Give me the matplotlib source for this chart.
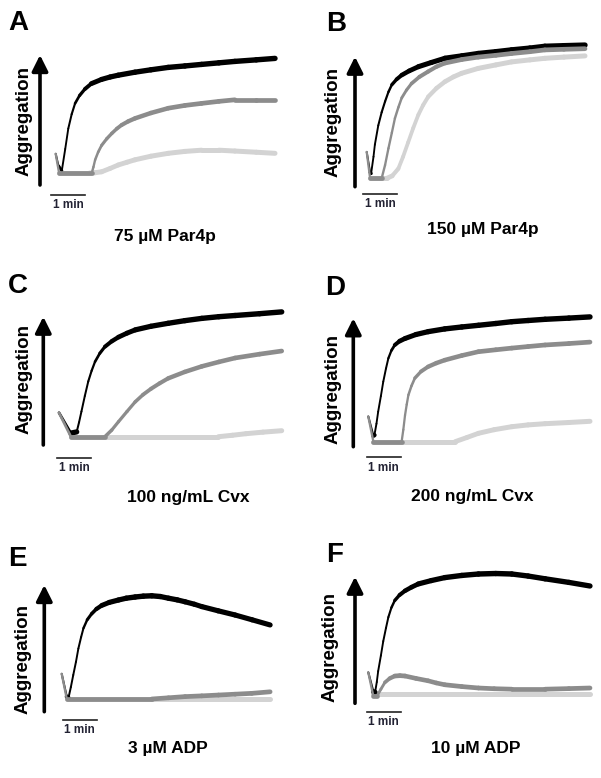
import math
import matplotlib.pyplot as plt
from matplotlib.collections import LineCollection
from matplotlib.patches import FancyArrowPatch

plt.rcParams['font.family'] = ['Liberation Sans', 'DejaVu Sans']

W, H = 601, 778
PX_MIN = 34.0   # pixels per minute (scale bar)
PX_PCT = 1.2    # pixels per % aggregation

BLACK = '#000000'
MID = '#8c8c8c'
LIGHT = '#d3d3d3'

# traces: time (min) / aggregation (%)
a_black_t = [0, 0.08, 0.18, 0.28, 0.37, 0.47, 0.57, 0.7, 0.86, 1.05, 1.35, 1.6, 1.84, 2.33, 2.8,
             3.31, 3.8, 4.29, 4.8, 5.27, 5.9, 6.45]
a_black_y = [16, 6, 2, 20, 37, 49, 58, 64.5, 70, 74.5, 78, 80, 81.5, 84, 86,
             88, 89.2, 90.5, 91.8, 93, 94.3, 95.5]
a_mid_t = [0, 0.1, 1.06, 1.11, 1.16, 1.25, 1.35, 1.5, 1.65, 1.8, 1.94, 2.13, 2.33, 2.8, 3.31,
           3.8, 4.29, 4.8, 5.27, 5.9, 6.45]
a_mid_y = [16, 0, 0, 5, 11, 17.5, 23, 28.5, 33, 37, 40, 43, 45.5, 50, 54,
           56.3, 58, 59.7, 61, 61, 61]
a_light_t = [0.1, 1.0, 1.15, 1.35, 1.6, 1.84, 2.1, 2.33, 2.8, 3.31, 3.8, 4.29, 4.8, 5.27, 5.9, 6.45]
a_light_y = [0, 0, 0.2, 1, 3.8, 6.7, 9, 11, 14, 16.4, 18, 19, 19, 18.3, 17.3, 16.4]

b_black_t = [0, 0.1, 0.13, 0.2, 0.24, 0.34, 0.44, 0.54, 0.64, 0.74, 0.88, 1.03, 1.25, 1.52, 1.9,
             2.30, 2.8, 3.28, 3.8, 4.26, 4.8, 5.24, 5.8, 6.42]
b_black_y = [22, 5, 4, 18, 28, 44, 55, 64, 72, 78, 82.5, 86, 89.5, 93, 96.5,
             100, 102, 104, 105.5, 107, 108.5, 110, 110.5, 111]
b_mid_t = [0, 0.1, 0.44, 0.54, 0.64, 0.74, 0.83, 0.93, 1.03, 1.17, 1.32, 1.55, 1.81, 2.05, 2.30,
           2.8, 3.28, 3.8, 4.26, 4.8, 5.24, 5.8, 6.42]
b_mid_y = [22, 0, 0, 11, 25, 38, 50, 59, 67, 73.5, 79, 84.5, 89, 93, 96,
           99, 101, 102.5, 104, 105.5, 107, 107.5, 108]
b_light_t = [0.1, 0.59, 0.75, 0.93, 1.07, 1.22, 1.37, 1.52, 1.66, 1.81, 2.05, 2.30, 2.55, 2.79,
             3.28, 3.8, 4.26, 4.8, 5.24, 5.8, 6.42]
b_light_y = [0, 0, 2, 8, 18, 30, 42, 53, 61, 68, 75, 80.5, 84.5, 87.5,
             91.6, 94.5, 97, 98.7, 100, 101, 102]

c_black_t = [0, 0.35, 0.52, 0.59, 0.66, 0.76, 0.86, 0.96, 1.06, 1.2, 1.35, 1.55, 1.75, 2.0, 2.24,
             2.7, 3.21, 3.7, 4.20, 4.7, 5.18, 5.9, 6.55]
c_black_y = [20, 3, 4, 12, 21, 34, 46, 55, 62.5, 69.5, 75, 79.5, 83, 86.3, 89,
             92, 94.5, 96.7, 98.6, 100, 101, 102.5, 104]
c_mid_t = [0, 0.35, 1.35, 1.55, 1.75, 2.0, 2.24, 2.47, 2.71, 2.96, 3.21, 3.7, 4.20, 4.7, 5.18,
           5.9, 6.55]
c_mid_y = [20, 0, 0, 5.5, 12.5, 21, 29, 35, 40, 44.5, 48.6, 54, 58.6, 62.3, 65.6,
           68.8, 71.4]
c_light_t = [0.35, 4.69, 5.1, 5.5, 6.0, 6.55]
c_light_y = [0, 0, 1.2, 2.5, 3.8, 5]

d_black_t = [0, 0.15, 0.18, 0.24, 0.29, 0.37, 0.44, 0.52, 0.59, 0.68, 0.78, 0.92, 1.08, 1.4,
             1.76, 2.25, 2.75, 3.24, 3.75, 4.22, 4.7, 5.2, 5.9, 6.52]
d_black_y = [21, 5, 5.5, 15, 25, 38, 50, 61, 69.5, 76, 80.6, 83.8, 86, 89.3,
             91.7, 94, 95.6, 97, 98.5, 100, 101, 102, 103, 104]
d_mid_t = [0, 0.15, 0.98, 1.03, 1.08, 1.13, 1.18, 1.27, 1.37, 1.55, 1.76, 2.0, 2.25, 2.75,
           3.24, 3.75, 4.22, 4.7, 5.2, 5.9, 6.52]
d_mid_y = [21, 0, 0, 10, 22, 31, 39, 46.5, 53, 58.5, 62.5, 65.5, 68, 71.8,
           75, 76.6, 78, 79.3, 80.6, 81.8, 83]
d_light_t = [0.15, 2.55, 2.9, 3.24, 3.7, 4.22, 4.7, 5.2, 5.9, 6.52]
d_light_y = [0, 0, 3.5, 7, 10, 12.5, 14, 15, 16, 17]

e_black_t = [0, 0.15, 0.2, 0.27, 0.34, 0.42, 0.49, 0.57, 0.64, 0.75, 0.88, 1.02, 1.18, 1.4,
             1.67, 1.9, 2.16, 2.4, 2.65, 2.9, 3.14, 3.4, 3.63, 3.9, 4.12, 4.6, 5.1, 5.6, 6.13]
e_black_y = [21, 2, 1, 10, 20, 31, 42, 51.5, 59, 66, 71, 75, 78, 80.5,
             82.5, 84, 85, 85.7, 86, 85.4, 84, 82.6, 81, 79, 77, 73.5, 70, 66, 61.7]
e_mid_t = [0, 0.15, 2.65, 3.14, 3.63, 4.12, 4.61, 5.1, 5.59, 6.13]
e_mid_y = [21, 0, 0, 1, 2, 2.6, 3.3, 4, 4.7, 6]
e_light_t = [0.15, 6.13]
e_light_y = [0, 0]

f_black_t = [0, 0.15, 0.2, 0.25, 0.29, 0.37, 0.44, 0.52, 0.59, 0.68, 0.78, 0.92, 1.08, 1.27,
             1.47, 1.85, 2.25, 2.75, 3.24, 3.75, 4.22, 4.7, 5.2, 5.9, 6.52]
f_black_y = [18, 2, 1.5, 10, 19, 32, 44, 55, 64, 72, 78, 82.5, 86, 89,
             91.7, 94.5, 97, 98.8, 100, 100.4, 100, 98.3, 96, 93, 90]
f_mid_t = [0, 0.15, 0.25, 0.37, 0.49, 0.63, 0.78, 0.93, 1.08, 1.4, 1.76, 2.0, 2.25, 2.75,
           3.24, 3.7, 4.22, 5.2, 5.9, 6.52]
f_mid_y = [18, -2, -2, 4, 9.7, 13, 15, 15.3, 15, 13, 11, 9.2, 7.7, 6.2,
           5, 4.4, 4, 4, 4.5, 5]
f_light_t = [0.15, 6.52]
f_light_y = [0, 0]

letters = ['A', 'B', 'C', 'D', 'E', 'F']
titles = ['75 µM Par4p', '150 µM Par4p', '100 ng/mL Cvx', '200 ng/mL Cvx',
          '3 µM ADP', '10 µM ADP']
traces = [
    [(a_light_t, a_light_y), (a_black_t, a_black_y), (a_mid_t, a_mid_y)],
    [(b_light_t, b_light_y), (b_black_t, b_black_y), (b_mid_t, b_mid_y)],
    [(c_light_t, c_light_y), (c_black_t, c_black_y), (c_mid_t, c_mid_y)],
    [(d_light_t, d_light_y), (d_black_t, d_black_y), (d_mid_t, d_mid_y)],
    [(e_light_t, e_light_y), (e_black_t, e_black_y), (e_mid_t, e_mid_y)],
    [(f_light_t, f_light_y), (f_black_t, f_black_y), (f_mid_t, f_mid_y)],
]

# layout in pixels (from top-left)
# x0, x1, baseline, arrow x, arrow tip, arrow bottom, bar x0, bar y, label x, label y,
# title x, title y, letter x, letter y, "1 min" baseline
layout = [
    (55.7, 276, 173, 40, 55, 185, 51, 195, 24, 121, 165, 240.5, 18.5, 23, 208),
    (366.7, 587, 178.3, 355, 56.7, 186.7, 363.3, 194, 333, 122, 482.5, 234, 336, 24, 207),
    (59, 282.3, 436.7, 43.3, 316.7, 445, 57.3, 457.7, 24, 379, 188, 502, 18, 286, 470.7),
    (368.3, 590, 441.7, 353.3, 318.3, 446.7, 366.7, 456.7, 333, 389, 472, 500.7, 335, 288, 470.7),
    (61.7, 270, 699, 44.3, 585, 711.7, 62.7, 720, 23, 659, 168, 753, 17, 559.5, 733),
    (368.3, 590, 694, 355, 576.7, 703.3, 366.7, 712.3, 330, 647, 476, 753, 335, 555, 725),
]

colors = [LIGHT, BLACK, MID]
thick = [3.6, 3.9, 3.4]   # width where the trace is flat (vertical noise shows)
thin = [2.6, 1.3, 1.6]    # width where the trace is steep


def trace(ax, t, y, color, lw_flat, lw_steep, z):
    segs, widths = [], []
    for n in range(len(t) - 1):
        dx = (t[n + 1] - t[n]) * PX_MIN
        dy = (y[n + 1] - y[n]) * PX_PCT
        cos2 = dx * dx / (dx * dx + dy * dy)
        segs.append([(t[n], y[n]), (t[n + 1], y[n + 1])])
        widths.append(lw_steep + (lw_flat - lw_steep) * cos2)
    lc = LineCollection(segs, colors=color, linewidths=widths, capstyle='round',
                        zorder=z, clip_on=False)
    ax.add_collection(lc)


fig = plt.figure(figsize=(W / 100, H / 100), dpi=100)

for i in range(6):
    (x0, x1, base, ax_x, tip, bot, bx0, by, lx, ly,
     tx, ty, lex, ley, my) = layout[i]
    T = (x1 - x0) / PX_MIN
    ax = fig.add_axes([x0 / W, (H - base - 10 * PX_PCT) / H,
                       (x1 - x0) / W, 125 * PX_PCT / H])
    ax.set_xlim(0, T)
    ax.set_ylim(-10, 115)
    ax.axis('off')
    for j, (t, y) in enumerate(traces[i]):
        trace(ax, t, y, colors[j], thick[j], thin[j], 2 + j)

    # vertical arrow
    fig.add_artist(FancyArrowPatch(
        (ax_x, H - bot), (ax_x, H - tip), transform=None,
        arrowstyle='-|>,head_width=0.4,head_length=0.8', mutation_scale=12,
        lw=2.6, color='black', shrinkA=0, shrinkB=0))
    # scale bar 1 min
    fig.add_artist(plt.Line2D([bx0, bx0 + PX_MIN], [H - by, H - by],
                              transform=None, color='#222222', lw=1.2))
    fig.text((bx0 + PX_MIN / 2) / W, 1 - my / H, '1 min', ha='center',
             va='baseline', fontsize=8.5, fontweight='bold', color='#222233')
    fig.text(lx / W, 1 - ly / H, 'Aggregation', rotation=90, ha='center',
             va='center', fontsize=13.5, fontweight='bold')
    fig.text(tx / W, 1 - ty / H, titles[i], ha='center', va='baseline',
             fontsize=12.5, fontweight='bold')
    fig.text(lex / W, 1 - ley / H, letters[i], ha='center', va='center',
             fontsize=20, fontweight='bold')

fig.savefig('out.png', dpi=100)
